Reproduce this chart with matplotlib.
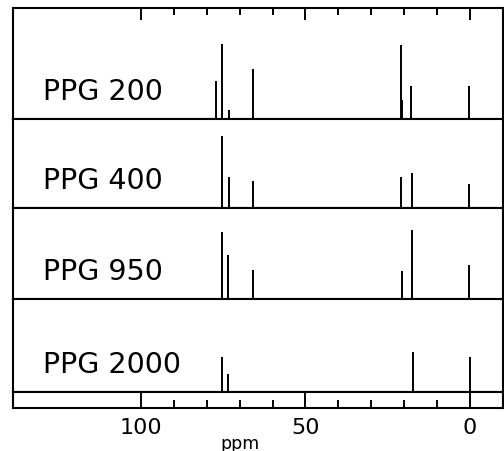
import numpy as np
import matplotlib
matplotlib.use("Agg")
import matplotlib.pyplot as plt

# 13C NMR ピーク位置 (ppm) と高さ
samples = ["PPG 200", "PPG 400", "PPG 950", "PPG 2000"]
shifts = [
    [77.2, 75.4, 73.3, 65.8, 21.0, 20.5, 17.8, 0.2],
    [75.4, 73.3, 65.8, 20.9, 17.5, 0.2],
    [75.4, 73.6, 65.8, 20.5, 17.4, 0.2],
    [75.4, 73.6, 17.2, 0.0],
]
heights = [
    [37.6, 75.0, 8.3, 50.0, 73.3, 18.6, 32.6, 32.6],
    [72.0, 31.0, 27.7, 31.7, 35.3, 24.3],
    [67.3, 44.0, 29.3, 27.7, 69.0, 34.0],
    [35.0, 18.3, 40.0, 35.0],
]
major_ticks = [100, 50, 0]
minor_ticks = [90, 80, 70, 60, 40, 30, 20, 10]

W, H = 504, 452
fig = plt.figure(figsize=(W / 100, H / 100), dpi=100)

left, right = 13, 502.5
# パネル境界 (px, 上から)
edges = [9, 119.5, 209.3, 300, 393.3, 408.7]
xlim = (139, -10)
lw = 1.5

axes = []
for i in range(5):
    top, bot = edges[i], edges[i + 1]
    ax = fig.add_axes([left / W, (H - bot) / H, (right - left) / W, (bot - top) / H])
    ax.set_xlim(*xlim)
    ax.set_ylim(0, bot - top)
    for s in ax.spines.values():
        s.set_linewidth(lw)
    ax.set_yticks([])
    axes.append(ax)

for ax, name, x, h in zip(axes[:4], samples, shifts, heights):
    ax.vlines(x, 0, h, colors="black", linewidth=1.4)
    ax.text(0.061, 20, name, transform=ax.get_yaxis_transform(),
            fontsize=20.5, family="DejaVu Sans", va="baseline", ha="left")
    ax.set_xticks([])

# 上側の目盛り
top_ax = axes[0]
top_ax.xaxis.set_ticks_position("top")
top_ax.set_xticks(major_ticks)
top_ax.set_xticks(minor_ticks, minor=True)
top_ax.tick_params(axis="x", which="major", direction="in", length=8.6, width=1.4, labeltop=False)
top_ax.tick_params(axis="x", which="minor", direction="in", length=5.2, width=1.4)

# 下の目盛り帯
strip = axes[4]
strip.set_xticks(major_ticks)
strip.set_xticklabels([str(t) for t in major_ticks])
strip.set_xticks(minor_ticks, minor=True)
strip.tick_params(axis="x", which="major", direction="in", length=11, width=1.4,
                  labelsize=16, pad=7)
strip.tick_params(axis="x", which="minor", direction="in", length=5.8, width=1.4)
strip.text(70, -2.3, "ppm", transform=strip.get_xaxis_transform(),
           fontsize=12.5, ha="center", va="center")

fig.savefig("out.png", dpi=100)
